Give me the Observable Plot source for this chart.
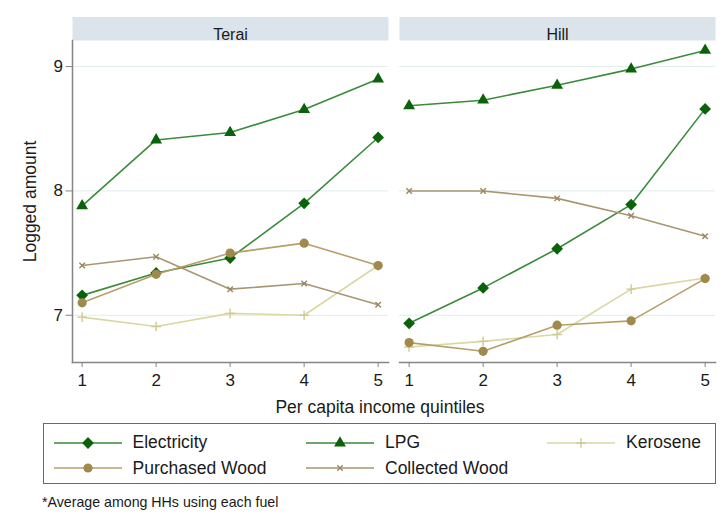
<!DOCTYPE html>
<html>
<head>
<meta charset="utf-8">
<script src="https://cdn.jsdelivr.net/npm/d3@7"></script>
<script src="https://cdn.jsdelivr.net/npm/@observablehq/plot@0.6"></script>
<style>
  body { margin: 0; background: #fff; font-family: "Liberation Sans", Arial, Helvetica, sans-serif; color: #1a1a1a; }
  #wrap { position: relative; width: 725px; height: 528px; overflow: hidden; }
  #chart { position: absolute; left: 0; top: 0; }
  #xtitle { position: absolute; left: 180px; width: 400px; top: 397px; line-height: 20px; font-size: 17.5px; text-align: center; }
  #legend { position: absolute; left: 43px; top: 423px; width: 673px; height: 61px; box-sizing: border-box; border: 1.5px solid #6a6a6a; }
  .item { position: absolute; height: 20px; display: flex; align-items: center; font-size: 17.5px; white-space: nowrap; }
  .item svg { display: block; margin-right: 11px; }
  #note { position: absolute; left: 42px; top: 494px; line-height: 16px; font-size: 14.2px; }
</style>
</head>
<body>
<div id="wrap">
  <div id="chart"></div>
  <div id="xtitle">Per capita income quintiles</div>
  <div id="legend"></div>
  <div id="note">*Average among HHs using each fuel</div>
</div>
<script>
// Categories
const quintiles = [1, 2, 3, 4, 5];
const regions = ["Terai", "Hill"];
const fuels = ["Electricity", "LPG", "Kerosene", "Purchased Wood", "Collected Wood"];
const yTicks = [7, 8, 9];

// Logged amount by income quintile, Terai
const teraiElectricity = [7.16, 7.34, 7.46, 7.90, 8.43];
const teraiLPG         = [7.88, 8.41, 8.47, 8.655, 8.90];
const teraiKerosene    = [6.985, 6.91, 7.015, 7.00, 7.40];
const teraiPurchased   = [7.10, 7.33, 7.50, 7.58, 7.40];
const teraiCollected   = [7.40, 7.47, 7.21, 7.255, 7.085];

// Logged amount by income quintile, Hill
const hillElectricity = [6.935, 7.22, 7.535, 7.89, 8.66];
const hillLPG         = [8.685, 8.73, 8.85, 8.98, 9.13];
const hillKerosene    = [6.745, 6.79, 6.845, 7.21, 7.30];
const hillPurchased   = [6.78, 6.71, 6.92, 6.955, 7.295];
const hillCollected   = [8.00, 8.00, 7.94, 7.80, 7.635];

// Series styling, in the order of `fuels`
const lineColors   = ["#3b8b3b", "#3b8b3b", "#dbd7a3", "#b5a06a", "#a99671"];
const markerColors = ["#0a620a", "#0a620a", "#cfca8e", "#9f894c", "#9a865f"];
const markerSymbols = ["diamond2", "triangle", "plus", "circle", "times"];
const markerRadius = [5.3, 4.4, 3.2, 4.6, 2.6];
const markerFilled = [true, true, false, true, false];

const series = {
  Terai: [teraiElectricity, teraiLPG, teraiKerosene, teraiPurchased, teraiCollected],
  Hill: [hillElectricity, hillLPG, hillKerosene, hillPurchased, hillCollected]
};

const rows = regions.flatMap(region =>
  fuels.flatMap((fuel, i) =>
    quintiles.map((q, j) => ({region, fuel, q, v: series[region][i][j]}))
  )
);

const axisGray = "#858585";

const seriesMarks = fuels.flatMap((fuel, i) => {
  const data = rows.filter(r => r.fuel === fuel);
  const dotStyle = markerFilled[i]
    ? {fill: markerColors[i], stroke: "none"}
    : {fill: "none", stroke: markerColors[i], strokeWidth: 1.4};
  return [
    Plot.line(data, {x: "q", y: "v", fx: "region", stroke: lineColors[i], strokeWidth: 1.6}),
    Plot.dot(data, {x: "q", y: "v", fx: "region", symbol: markerSymbols[i], r: markerRadius[i], ...dotStyle})
  ];
});

const chart = Plot.plot({
  width: 725,
  height: 392,
  marginLeft: 71,
  marginRight: 9,
  marginTop: 40,
  marginBottom: 30,
  style: {fontFamily: "Liberation Sans, Arial, sans-serif", background: "transparent"},
  fx: {domain: regions, paddingInner: 0.0335, paddingOuter: 0, axis: null},
  x: {domain: [0.87, 5.14]},
  y: {domain: [6.62, 9.21]},
  marks: [
    // panel header strips and their titles
    Plot.frame({fill: "#dae4ea", stroke: "none", insetTop: -23.5, insetBottom: 322}),
    Plot.text(regions, {fx: d => d, text: d => d, frameAnchor: "top", dy: -12, fontSize: 16, fill: "#1a1a1a"}),
    Plot.gridY({ticks: yTicks, stroke: "#e2ecef", strokeOpacity: 1}),
    Plot.frame({anchor: "left", stroke: axisGray, strokeWidth: 1.5, facetAnchor: "left"}),
    Plot.frame({anchor: "bottom", stroke: axisGray, strokeWidth: 1.5}),
    Plot.axisY({ticks: yTicks, tickFormat: d => String(d), tickSize: 6.5, tickPadding: 3, fontSize: 17, stroke: axisGray, fill: "#1a1a1a", label: null}),
    Plot.axisY({ticks: [], label: "Logged amount", labelAnchor: "center", labelOffset: 49, labelArrow: "none", fontSize: 17.5, fill: "#1a1a1a"}),
    Plot.axisX({ticks: quintiles, tickFormat: d => String(d), tickSize: 5, tickPadding: 6, fontSize: 17, stroke: axisGray, fill: "#1a1a1a", label: null}),
    ...seriesMarks
  ]
});
document.getElementById("chart").appendChild(chart);

// Legend: three columns, two rows
const legendCols = [9.5, 262, 503];
const legendRows = [8.5, 34];
const legend = d3.select("#legend");
const symbolTypes = {diamond2: d3.symbolDiamond2, triangle: d3.symbolTriangle, plus: d3.symbolPlus, circle: d3.symbolCircle, times: d3.symbolTimes};
fuels.forEach((fuel, i) => {
  const item = legend.append("div").attr("class", "item")
    .style("left", legendCols[i % 3] + "px")
    .style("top", legendRows[Math.floor(i / 3)] + "px");
  const svg = item.append("svg").attr("width", 68).attr("height", 20);
  svg.append("line").attr("x1", 0).attr("x2", 68).attr("y1", 10).attr("y2", 10)
    .attr("stroke", lineColors[i]).attr("stroke-width", 1.6);
  const r = markerRadius[i];
  svg.append("path")
    .attr("transform", "translate(34,10)")
    .attr("d", d3.symbol(symbolTypes[markerSymbols[i]], Math.PI * r * r)())
    .attr("fill", markerFilled[i] ? markerColors[i] : "none")
    .attr("stroke", markerFilled[i] ? "none" : markerColors[i])
    .attr("stroke-width", 1.4);
  item.append("span").text(fuel);
});
</script>
</body>
</html>
